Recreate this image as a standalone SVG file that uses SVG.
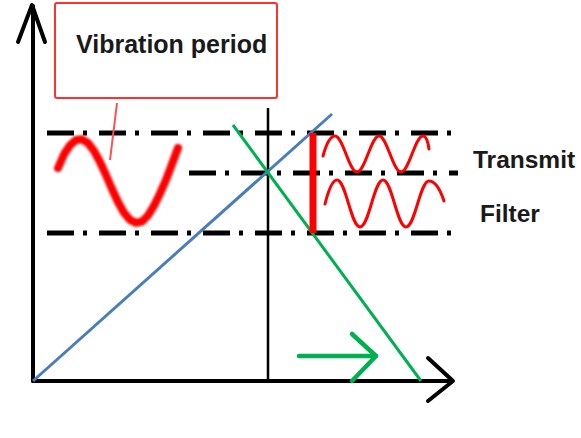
<svg xmlns="http://www.w3.org/2000/svg" width="581" height="438" viewBox="0 0 581 438">
<defs>
<style>
.ax{stroke:#000;stroke-width:4;fill:none;stroke-linecap:round;stroke-linejoin:round}
.dd{stroke:#000;stroke-width:5;fill:none;stroke-dasharray:27 9 4 12}
.lbl{font-family:"Liberation Sans",Arial,sans-serif;font-weight:bold;fill:#1a1a1a}
.wave{stroke:#ff0000;fill:none;stroke-linecap:round;stroke-linejoin:round}
</style>
<filter id="blur" x="-10%" y="-10%" width="120%" height="120%"><feGaussianBlur stdDeviation="1.2"/></filter>
</defs>
<rect width="581" height="438" fill="#fff"/>
<g id="axes">
<line class="ax" x1="33" y1="381" x2="33" y2="6" stroke-width="3.5"/>
<polyline class="ax" points="18,42 32,5 45,42"/>
<line class="ax" x1="33" y1="381" x2="452" y2="381"/>
<polyline class="ax" points="428,358 453,381 428,401"/>
</g>
<g id="levels">
<line class="dd" x1="47" y1="133" x2="452" y2="133"/>
<line class="dd" x1="189" y1="173" x2="458" y2="173"/>
<line class="dd" x1="47" y1="233" x2="463" y2="233"/>
</g>
<g id="connectors">
<line x1="268" y1="108" x2="268" y2="381" stroke="#000" stroke-width="2.5"/>
<line x1="33" y1="381" x2="332" y2="114" stroke="#4a7ebb" stroke-width="3"/>
<line x1="233" y1="125" x2="421" y2="381" stroke="#00b050" stroke-width="3"/>
<g stroke="#00b050" stroke-width="4.5" fill="none" stroke-linecap="round" stroke-linejoin="round">
<line x1="299" y1="356" x2="376" y2="356"/>
<polyline points="352,334 376,356 352,381"/>
</g>
<line x1="313" y1="133" x2="313" y2="233" stroke="#ff0000" stroke-width="7"/>
<line x1="117" y1="103" x2="110" y2="160" stroke="#ff5050" stroke-width="2"/>
</g>
<g id="vibration-period">
<rect x="55" y="3" width="222" height="95" rx="2" fill="#fff" stroke="#ff3030" stroke-width="2"/>
<text class="lbl" x="76" y="53" font-size="25">Vibration period</text>
</g>
<g id="left-wave">
<polyline class="wave" stroke-width="8" filter="url(#blur)" points="58,168 64,154.3 70,145.2 76,140 82,139.3 88,143 94,150.9 100,162 106,175.2 112,189 118,202 124,212.7 130,219.9 136,222.9 142,221.5 148,215.5 154,205.7 160,193.4 166,179.8 172,164 178,148"/>
</g>
<g id="transmit-wave">
<path class="wave" stroke-width="3" d="M323,156 C326,145 330,136 335,136 C343,136 349,172 357,172 C365,172 371,136 379,136 C387,136 393,172 401,172 C409,172 415,136 423,136 C426,136 428,142 429,149"/>
</g>
<g id="filter-wave">
<path class="wave" stroke-width="3" d="M325,204 C328,192 332,180 337,180 C346,180 351,227 360,227 C369,227 374,180 383,180 C392,180 397,227 406,227 C415,227 420,181 429,181 C436,181 441,192 444,201"/>
</g>
<g id="transmit">
<text class="lbl" x="473" y="168" font-size="24.5">Transmit</text>
</g>
<g id="filter">
<text class="lbl" x="480" y="222" font-size="24.5">Filter</text>
</g>
</svg>
